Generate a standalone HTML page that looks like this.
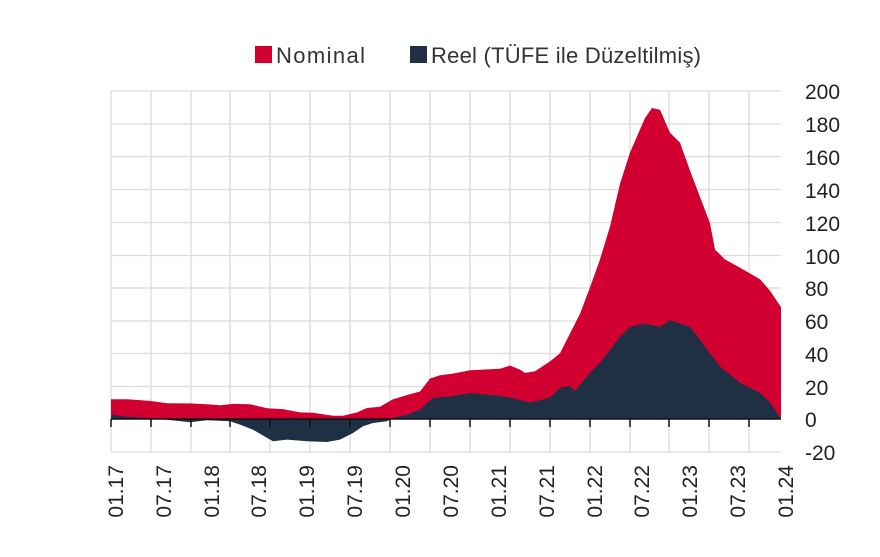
<!DOCTYPE html>
<html><head><meta charset="utf-8"><style>
body{margin:0;background:#fff;width:880px;height:552px;overflow:hidden;font-family:"Liberation Sans",sans-serif;}
</style></head><body>
<svg width="880" height="552" viewBox="0 0 880 552" xmlns="http://www.w3.org/2000/svg" font-family="Liberation Sans, sans-serif">
<g stroke="#dcdcdc" stroke-width="1.3">
<line x1="111" y1="91" x2="781" y2="91"/><line x1="111" y1="124" x2="781" y2="124"/><line x1="111" y1="156.5" x2="781" y2="156.5"/><line x1="111" y1="189.5" x2="781" y2="189.5"/><line x1="111" y1="222.5" x2="781" y2="222.5"/><line x1="111" y1="255.5" x2="781" y2="255.5"/><line x1="111" y1="288" x2="781" y2="288"/><line x1="111" y1="321" x2="781" y2="321"/><line x1="111" y1="353.5" x2="781" y2="353.5"/><line x1="111" y1="386.5" x2="781" y2="386.5"/><line x1="111" y1="452" x2="781" y2="452"/>
<line x1="111" y1="91" x2="111" y2="452"/><line x1="151" y1="91" x2="151" y2="452"/><line x1="191" y1="91" x2="191" y2="452"/><line x1="230" y1="91" x2="230" y2="452"/><line x1="270" y1="91" x2="270" y2="452"/><line x1="310" y1="91" x2="310" y2="452"/><line x1="350" y1="91" x2="350" y2="452"/><line x1="390" y1="91" x2="390" y2="452"/><line x1="430" y1="91" x2="430" y2="452"/><line x1="470" y1="91" x2="470" y2="452"/><line x1="510" y1="91" x2="510" y2="452"/><line x1="550" y1="91" x2="550" y2="452"/><line x1="590" y1="91" x2="590" y2="452"/><line x1="630" y1="91" x2="630" y2="452"/><line x1="669" y1="91" x2="669" y2="452"/><line x1="709" y1="91" x2="709" y2="452"/><line x1="749" y1="91" x2="749" y2="452"/>
</g>
<path fill="#d20030" d="M111,419 L111,399.3 L127,399.3 L150,400.9 L167,403.2 L190,403.4 L207,404.2 L220,405.3 L233,403.9 L250,404.2 L267,408.3 L283,409.1 L300,412.4 L313,412.7 L333,415.7 L343,415.7 L357,412.4 L367,408 L380,406.7 L393,399.3 L407,395 L420,391.5 L430,378.5 L440,375.2 L453,373.6 L470,370.3 L500,368.7 L510,365.5 L520,369.6 L525,372.9 L535,371.3 L550,361.4 L560,353.2 L570,333.5 L580,313.7 L590,287.4 L600,259.4 L610,226.5 L620,183.8 L630,152.5 L640,129.5 L645,118 L652,108 L660,109.7 L670,132.8 L680,142.6 L690,170.6 L700,196.9 L710,223.2 L715,249.6 L725,259.4 L740,267.7 L760,279.2 L770,290.7 L781,307.1 L781,419 Z"/>
<path fill="#1f3044" d="M111,419 L111,414.6 L127,416.9 L150,418 L167,419.7 L190,422.3 L207,420.3 L230,421.3 L240,424.6 L253,429.7 L267,437.9 L273,441.2 L287,439.6 L307,441.2 L327,442 L340,439.6 L353,433 L363,426.2 L373,423 L387,421.3 L393,418 L407,414.6 L420,409.6 L433,397.9 L453,396.3 L470,393 L500,396 L510,397.6 L520,400.1 L530,402.6 L550,397.6 L560,387.7 L570,386.1 L575,391 L590,372.9 L600,363 L610,349.9 L620,336.8 L630,326.9 L645,323.6 L660,326.9 L670,320.3 L690,326.9 L700,340 L710,353.2 L720,366.4 L740,382.8 L760,392.7 L770,402.6 L781,419 Z"/>
<line x1="111" y1="419" x2="781" y2="419" stroke="#111" stroke-width="1.5"/>
<g stroke="#111" stroke-width="1.5">
<line x1="111" y1="419" x2="111" y2="427"/><line x1="151" y1="419" x2="151" y2="427"/><line x1="191" y1="419" x2="191" y2="427"/><line x1="230" y1="419" x2="230" y2="427"/><line x1="270" y1="419" x2="270" y2="427"/><line x1="310" y1="419" x2="310" y2="427"/><line x1="350" y1="419" x2="350" y2="427"/><line x1="390" y1="419" x2="390" y2="427"/><line x1="430" y1="419" x2="430" y2="427"/><line x1="470" y1="419" x2="470" y2="427"/><line x1="510" y1="419" x2="510" y2="427"/><line x1="550" y1="419" x2="550" y2="427"/><line x1="590" y1="419" x2="590" y2="427"/><line x1="630" y1="419" x2="630" y2="427"/><line x1="669" y1="419" x2="669" y2="427"/><line x1="709" y1="419" x2="709" y2="427"/><line x1="749" y1="419" x2="749" y2="427"/>
</g>
<g font-size="21" fill="#222">
<text x="805" y="99">200</text><text x="805" y="132">180</text><text x="805" y="165">160</text><text x="805" y="198">140</text><text x="805" y="231">120</text><text x="805" y="264">100</text><text x="805" y="296">80</text><text x="805" y="329">60</text><text x="805" y="362">40</text><text x="805" y="395">20</text><text x="805" y="427">0</text><text x="805" y="460">-20</text>
</g>
<g font-size="21" fill="#222" text-anchor="end">
<text transform="translate(123,465) rotate(-90)">01.17</text>
<text transform="translate(171,465) rotate(-90)">07.17</text>
<text transform="translate(219,465) rotate(-90)">01.18</text>
<text transform="translate(266,465) rotate(-90)">07.18</text>
<text transform="translate(314,465) rotate(-90)">01.19</text>
<text transform="translate(362,465) rotate(-90)">07.19</text>
<text transform="translate(410,465) rotate(-90)">01.20</text>
<text transform="translate(458,465) rotate(-90)">07.20</text>
<text transform="translate(506,465) rotate(-90)">01.21</text>
<text transform="translate(554,465) rotate(-90)">07.21</text>
<text transform="translate(602,465) rotate(-90)">01.22</text>
<text transform="translate(649,465) rotate(-90)">07.22</text>
<text transform="translate(697,465) rotate(-90)">01.23</text>
<text transform="translate(745,465) rotate(-90)">07.23</text>
<text transform="translate(793,465) rotate(-90)">01.24</text>
</g>
<rect x="255" y="46" width="17" height="17" fill="#d20030"/>
<text x="276" y="63" font-size="22" fill="#333" textLength="89">Nominal</text>
<rect x="410" y="46" width="17" height="17" fill="#1f3044"/>
<text x="431" y="63" font-size="22" fill="#333" textLength="270">Reel (TÜFE ile Düzeltilmiş)</text>
</svg>
</body></html>
